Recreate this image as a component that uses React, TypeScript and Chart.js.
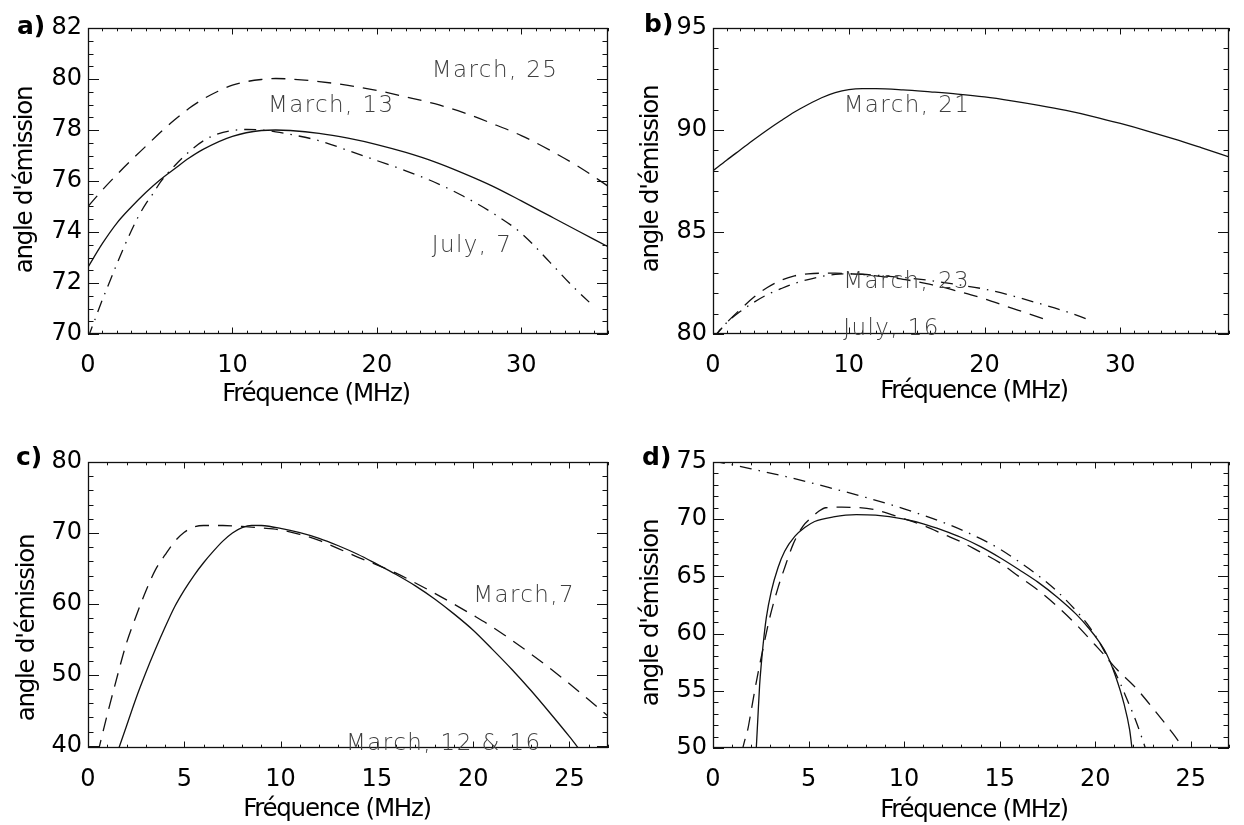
import React, { useEffect, useRef } from "react";
import { Chart, registerables } from "chart.js";

Chart.register(...registerables);

// ---------------- Panel a ----------------
const A_X_TICKS = [0, 10, 20, 30];
const A_Y_TICKS = [70, 72, 74, 76, 78, 80, 82];
const A_SOLID_X = [0, 1, 2, 3, 4, 5, 6, 7, 8, 10, 12, 13, 14, 16, 18, 20, 22, 24, 26, 28, 30, 32, 34, 36];
const A_SOLID_Y = [72.62, 73.55, 74.35, 74.98, 75.55, 76.05, 76.48, 76.9, 77.25, 77.75, 77.98, 78.0, 77.98, 77.87, 77.68, 77.43, 77.12, 76.75, 76.3, 75.8, 75.22, 74.62, 74.02, 73.42];
const A_DASH_X = [0, 1, 2, 3, 4, 5, 6, 7, 8, 9, 10, 11, 12, 13, 14, 16, 18, 20, 22, 24, 26, 28, 30, 32, 34, 36];
const A_DASH_Y = [75.0, 75.65, 76.25, 76.82, 77.36, 77.9, 78.4, 78.85, 79.22, 79.52, 79.76, 79.9, 79.98, 80.02, 80.0, 79.9, 79.75, 79.55, 79.3, 79.03, 78.68, 78.25, 77.78, 77.2, 76.55, 75.8];
const A_DD_X = [0, 0.5, 1, 1.5, 2, 2.5, 3, 3.5, 4, 4.5, 5, 6, 7, 8, 9, 10, 11, 12, 13, 14, 16, 18, 20, 22, 24, 26, 28, 30, 32, 33.5, 34.7];
const A_DD_Y = [69.85, 70.6, 71.35, 72.05, 72.75, 73.42, 74.05, 74.62, 75.1, 75.5, 75.95, 76.6, 77.15, 77.58, 77.85, 77.98, 78.02, 78.0, 77.93, 77.83, 77.58, 77.2, 76.8, 76.4, 75.95, 75.4, 74.75, 73.95, 72.8, 71.9, 71.25];

// ---------------- Panel b ----------------
const B_X_TICKS = [0, 10, 20, 30];
const B_Y_TICKS = [80, 85, 90, 95];
const B_SOLID_X = [0, 1, 2, 3, 4, 5, 6, 7, 8, 9, 10, 11, 12, 14, 16, 18, 20, 22, 24, 26, 28, 30, 32, 34, 36, 38];
const B_SOLID_Y = [88.0, 88.52, 89.02, 89.52, 90.0, 90.45, 90.88, 91.25, 91.58, 91.83, 91.98, 92.03, 92.03, 91.97, 91.87, 91.76, 91.62, 91.43, 91.21, 90.96, 90.66, 90.32, 89.95, 89.55, 89.12, 88.68];
const B_DASH_X = [0, 1, 2, 3, 4, 5, 6, 7, 8, 9, 10, 11, 12, 13, 14, 15, 16, 17, 18, 19, 20, 21, 22, 23, 24.3];
const B_DASH_Y = [79.78, 80.55, 81.2, 81.8, 82.28, 82.63, 82.85, 82.95, 82.98, 82.98, 82.95, 82.92, 82.85, 82.78, 82.68, 82.57, 82.43, 82.28, 82.1, 81.92, 81.72, 81.5, 81.27, 81.05, 80.75];
const B_DD_X = [0, 1, 2, 3, 4, 5, 6, 7, 8, 9, 10, 11, 12, 14, 16, 18, 20, 22, 24, 26, 27.6];
const B_DD_Y = [79.8, 80.55, 81.1, 81.55, 81.93, 82.22, 82.48, 82.67, 82.82, 82.92, 82.95, 82.93, 82.88, 82.77, 82.62, 82.42, 82.2, 81.88, 81.5, 81.1, 80.72];

// ---------------- Panel c ----------------
const C_X_TICKS = [0, 5, 10, 15, 20, 25];
const C_Y_TICKS = [40, 50, 60, 70, 80];
const C_SOLID_X = [1.5, 2, 2.5, 3, 3.5, 4, 4.5, 5, 5.5, 6, 6.5, 7, 7.5, 8, 8.5, 9, 10, 11, 12, 13, 14, 15, 16, 17, 18, 19, 20, 21, 22, 23, 24, 25, 25.6];
const C_SOLID_Y = [38.9, 42.8, 46.75, 50.3, 53.6, 56.7, 59.6, 61.95, 64.0, 65.8, 67.4, 68.85, 70.0, 70.75, 71.08, 71.05, 70.65, 70.05, 69.25, 68.2, 67.0, 65.6, 64.15, 62.55, 60.7, 58.6, 56.3, 53.6, 50.8, 47.8, 44.6, 41.3, 39.2];
const C_DASH_X = [0.5, 1, 1.5, 2, 2.5, 3, 3.5, 4, 4.5, 5, 5.5, 6, 7, 8, 9, 10, 11, 12, 13, 14, 15, 16, 17, 18, 19, 20, 21, 22, 23, 24, 25, 26, 27];
const C_DASH_Y = [38.9, 44.4, 49.6, 54.5, 58.3, 61.8, 64.8, 66.9, 68.8, 70.1, 70.85, 71.05, 71.05, 70.92, 70.7, 70.42, 69.8, 68.95, 67.8, 66.6, 65.5, 64.35, 62.95, 61.5, 59.98, 58.4, 56.75, 54.9, 52.95, 50.9, 48.75, 46.5, 44.2];

// ---------------- Panel d ----------------
const D_X_TICKS = [0, 5, 10, 15, 20, 25];
const D_Y_TICKS = [50, 55, 60, 65, 70, 75];
const D_SOLID_X = [2.25, 2.35, 2.44, 2.53, 2.62, 2.79, 3.05, 3.4, 3.75, 4.28, 4.8, 5.32, 6.3, 7.5, 8.5, 10, 11, 12, 13, 14, 15, 16, 17, 18, 19, 19.7, 20.2, 20.6, 21.06, 21.5, 21.8, 21.95];
const D_SOLID_Y = [49.5, 52.7, 55.5, 57.4, 59.0, 61.4, 63.7, 65.76, 67.2, 68.5, 69.27, 69.8, 70.2, 70.4, 70.35, 70.0, 69.6, 69.05, 68.4, 67.6, 66.65, 65.6, 64.5, 63.2, 61.7, 60.4, 59.3, 58.2, 56.3, 53.9, 51.6, 49.6];
const D_DASH_X = [1.5, 1.65, 1.83, 1.97, 2.27, 2.62, 2.97, 3.4, 3.75, 4.19, 4.71, 5.06, 5.5, 5.9, 6.74, 8.4, 10.06, 11, 12.1, 13, 13.8, 15, 16, 17, 18, 19, 20, 20.6, 21.06, 22.1, 23.1, 24.07, 24.7];
const D_DASH_Y = [49.6, 50.6, 51.7, 53.0, 55.8, 58.7, 61.4, 64.0, 65.76, 67.8, 69.4, 70.0, 70.65, 71.0, 71.05, 70.85, 70.0, 69.45, 68.65, 68.0, 67.3, 66.2, 65.0, 63.8, 62.4, 60.8, 59.0, 57.9, 57.0, 55.3, 53.3, 51.25, 49.8];
const D_DD_X = [0, 2, 4, 6, 8, 10, 12, 14, 15, 16, 17, 18, 19, 19.6, 20.2, 20.8, 21.3, 21.7, 22.1, 22.4, 22.7];
const D_DD_Y = [75.1, 74.4, 73.65, 72.8, 71.9, 70.9, 69.75, 68.3, 67.4, 66.3, 65.1, 63.7, 62.0, 60.8, 59.3, 57.4, 55.7, 54.1, 52.5, 51.1, 49.6];

// ---------------- text ----------------
const X_TITLE = "Fréquence (MHz)";
const Y_TITLE = "angle d'émission";

// ---------------- styles ----------------
const SOLID: number[] = [];
const DASHED = [14, 9];
const DASHDOT = [12, 7, 1.5, 7];
const FAMILY = '"DejaVu Sans", "Liberation Sans", Arial, sans-serif';

type Series = { x: number[]; y: number[]; dash: number[] };
type Note = { text: string; x: number; y: number };
type Spec = {
  key: string;
  left: number; top: number; w: number; h: number;
  yAxisW: number; xAxisH: number; padTop: number; padRight: number;
  xMin: number; xMax: number; yMin: number; yMax: number;
  xTicks: number[]; yTicks: number[]; xMinor: number; yMinor: number;
  series: Series[]; notes: Note[];
  label: string; labelX: number; labelY: number;
  xTitleX: number; xTitleY: number; yTitleX: number; yTitleY: number;
};

const PANELS: Spec[] = [
  {
    key: "a", left: 0, top: 0, w: 622, h: 412,
    yAxisW: 88, xAxisH: 78, padTop: 28, padRight: 14,
    xMin: 0, xMax: 36, yMin: 70, yMax: 82,
    xTicks: A_X_TICKS, yTicks: A_Y_TICKS, xMinor: 1, yMinor: 0.5,
    series: [
      { x: A_SOLID_X, y: A_SOLID_Y, dash: SOLID },
      { x: A_DASH_X, y: A_DASH_Y, dash: DASHED },
      { x: A_DD_X, y: A_DD_Y, dash: DASHDOT },
    ],
    notes: [
      { text: "March, 25", x: 23.8, y: 80.08 },
      { text: "March, 13", x: 12.46, y: 78.72 },
      { text: "July, 7", x: 23.8, y: 73.2 },
    ],
    label: "a)", labelX: 17, labelY: 34,
    xTitleX: 316, xTitleY: 401, yTitleX: 32, yTitleY: 180,
  },
  {
    key: "b", left: 622, top: 0, w: 622, h: 412,
    yAxisW: 91, xAxisH: 78, padTop: 28, padRight: 15,
    xMin: 0, xMax: 38, yMin: 80, yMax: 95,
    xTicks: B_X_TICKS, yTicks: B_Y_TICKS, xMinor: 1, yMinor: 1,
    series: [
      { x: B_SOLID_X, y: B_SOLID_Y, dash: SOLID },
      { x: B_DASH_X, y: B_DASH_Y, dash: DASHED },
      { x: B_DD_X, y: B_DD_Y, dash: DASHDOT },
    ],
    notes: [
      { text: "March, 21", x: 9.62, y: 90.9 },
      { text: "March, 23", x: 9.6, y: 82.24 },
      { text: "July, 16", x: 9.6, y: 79.95 },
    ],
    label: "b)", labelX: 22, labelY: 32,
    xTitleX: 352, xTitleY: 398, yTitleX: 36, yTitleY: 179,
  },
  {
    key: "c", left: 0, top: 412, w: 622, h: 413,
    yAxisW: 88, xAxisH: 77, padTop: 50, padRight: 14,
    xMin: 0, xMax: 27, yMin: 39.7, yMax: 80,
    xTicks: C_X_TICKS, yTicks: C_Y_TICKS, xMinor: 1, yMinor: 2,
    series: [
      { x: C_SOLID_X, y: C_SOLID_Y, dash: SOLID },
      { x: C_DASH_X, y: C_DASH_Y, dash: DASHED },
    ],
    notes: [
      { text: "March,7", x: 20.0, y: 60.3 },
      { text: "March, 12 & 16", x: 13.4, y: 39.45 },
    ],
    label: "c)", labelX: 16, labelY: 53,
    xTitleX: 337, xTitleY: 404, yTitleX: 34, yTitleY: 216,
  },
  {
    key: "d", left: 622, top: 412, w: 622, h: 413,
    yAxisW: 91, xAxisH: 77, padTop: 50, padRight: 15,
    xMin: 0, xMax: 27, yMin: 50, yMax: 75,
    xTicks: D_X_TICKS, yTicks: D_Y_TICKS, xMinor: 1, yMinor: 1,
    series: [
      { x: D_SOLID_X, y: D_SOLID_Y, dash: SOLID },
      { x: D_DASH_X, y: D_DASH_Y, dash: DASHED },
      { x: D_DD_X, y: D_DD_Y, dash: DASHDOT },
    ],
    notes: [],
    label: "d)", labelX: 20, labelY: 53,
    xTitleX: 352, xTitleY: 405, yTitleX: 36, yTitleY: 201,
  },
];

function tickValues(min: number, max: number, step: number): number[] {
  const out: number[] = [];
  const start = Math.ceil(min / step - 1e-9);
  const end = Math.floor(max / step + 1e-9);
  for (let i = start; i <= end; i++) out.push(+(i * step).toFixed(6));
  return out;
}

function makeOverlay(spec: Spec) {
  return {
    id: "idlOverlay",
    afterDatasetsDraw(chart: any) {
      const { ctx, chartArea: ca } = chart;
      const xs = chart.scales.x;
      const ys = chart.scales.y;
      ctx.save();
      ctx.strokeStyle = "#111";
      ctx.lineWidth = 1.3;
      ctx.setLineDash([]);
      ctx.strokeRect(ca.left + 0.5, ca.top + 0.5, ca.right - ca.left - 1, ca.bottom - ca.top - 1);

      const isMajor = (v: number, majors: number[]) => majors.some((m) => Math.abs(m - v) < 1e-6);
      ctx.lineWidth = 1;
      ctx.beginPath();
      for (const v of tickValues(spec.xMin, spec.xMax, spec.xMinor)) {
        const len = isMajor(v, spec.xTicks) ? 6.5 : 3.3;
        const p = Math.round(xs.getPixelForValue(v)) + 0.5;
        ctx.moveTo(p, ca.bottom);
        ctx.lineTo(p, ca.bottom - len);
        ctx.moveTo(p, ca.top);
        ctx.lineTo(p, ca.top + len);
      }
      for (const v of tickValues(spec.yMin, spec.yMax, spec.yMinor)) {
        const len = isMajor(v, spec.yTicks) ? 11 : 5.5;
        const p = Math.round(ys.getPixelForValue(v)) + 0.5;
        ctx.moveTo(ca.left, p);
        ctx.lineTo(ca.left + len, p);
        ctx.moveTo(ca.right, p);
        ctx.lineTo(ca.right - len, p);
      }
      ctx.stroke();

      // annotations
      ctx.fillStyle = "#404040";
      ctx.font = `200 23px ${FAMILY}`;
      (ctx as any).letterSpacing = "1.4px";
      ctx.textAlign = "left";
      ctx.textBaseline = "alphabetic";
      for (const n of spec.notes) {
        ctx.fillText(n.text, xs.getPixelForValue(n.x), ys.getPixelForValue(n.y));
      }

      // axis titles
      ctx.fillStyle = "#000";
      ctx.font = `24.5px ${FAMILY}`;
      (ctx as any).letterSpacing = "-1.25px";
      ctx.textAlign = "center";
      ctx.fillText(X_TITLE, spec.xTitleX, spec.xTitleY);
      ctx.save();
      ctx.translate(spec.yTitleX, spec.yTitleY);
      ctx.rotate(-Math.PI / 2);
      ctx.fillText(Y_TITLE, 0, 0);
      ctx.restore();

      // panel label
      (ctx as any).letterSpacing = "0px";
      ctx.font = `bold 25px ${FAMILY}`;
      ctx.textAlign = "left";
      ctx.fillText(spec.label, spec.labelX, spec.labelY);
      ctx.restore();
    },
  };
}

function buildConfig(spec: Spec): any {
  return {
    type: "line",
    data: {
      datasets: spec.series.map((s) => ({
        data: s.x.map((x, i) => ({ x, y: s.y[i] })),
        borderColor: "#111",
        borderWidth: 1.3,
        borderDash: s.dash,
        pointRadius: 0,
        fill: false,
        cubicInterpolationMode: "monotone",
      })),
    },
    options: {
      responsive: false,
      animation: false,
      devicePixelRatio: 1,
      events: [],
      layout: { padding: { left: 0, top: spec.padTop, right: spec.padRight, bottom: 0 } },
      plugins: { legend: { display: false }, tooltip: { enabled: false }, title: { display: false } },
      scales: {
        x: {
          type: "linear",
          min: spec.xMin,
          max: spec.xMax,
          afterBuildTicks: (sc: any) => {
            sc.ticks = spec.xTicks.map((v) => ({ value: v }));
          },
          afterFit: (sc: any) => {
            sc.height = spec.xAxisH;
          },
          grid: { display: false, drawTicks: false },
          border: { display: false },
          ticks: {
            font: { family: FAMILY, size: 24 },
            color: "#000",
            padding: 17,
            autoSkip: false,
            maxRotation: 0,
            minRotation: 0,
            callback: (v: any) => String(v),
          },
        },
        y: {
          type: "linear",
          min: spec.yMin,
          max: spec.yMax,
          afterBuildTicks: (sc: any) => {
            sc.ticks = spec.yTicks.map((v) => ({ value: v }));
          },
          afterFit: (sc: any) => {
            sc.width = spec.yAxisW;
          },
          grid: { display: false, drawTicks: false },
          border: { display: false },
          ticks: {
            font: { family: FAMILY, size: 24 },
            color: "#000",
            padding: 6,
            autoSkip: false,
            callback: (v: any) => String(v),
          },
        },
      },
    },
    plugins: [makeOverlay(spec)],
  };
}

function Panel({ spec }: { spec: Spec }) {
  const ref = useRef<HTMLCanvasElement | null>(null);
  useEffect(() => {
    if (!ref.current) return;
    const chart = new Chart(ref.current, buildConfig(spec));
    return () => chart.destroy();
  }, [spec]);
  return (
    <div style={{ position: "absolute", left: spec.left, top: spec.top, width: spec.w, height: spec.h }}>
      <canvas ref={ref} width={spec.w} height={spec.h} style={{ display: "block", width: spec.w, height: spec.h }} />
    </div>
  );
}

export default function App() {
  return (
    <div style={{ position: "absolute", left: 0, top: 0, width: 1244, height: 825, background: "#fff", overflow: "hidden" }}>
      {PANELS.map((p) => (
        <Panel key={p.key} spec={p} />
      ))}
    </div>
  );
}
